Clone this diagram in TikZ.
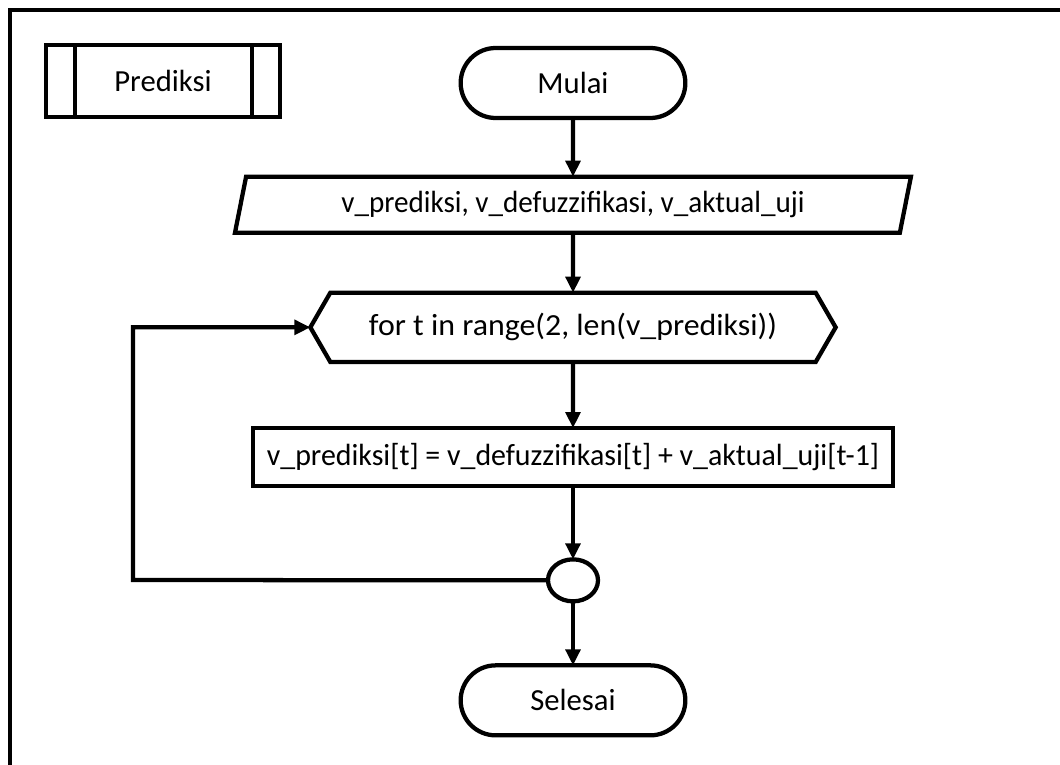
\documentclass[tikz,border=0pt]{standalone}
\usepackage{fontspec}
\setmainfont{Carlito}
\usetikzlibrary{positioning,shapes.geometric,shapes.misc,shapes.symbols,arrows.meta}

\tikzset{
  base/.style={draw, line width=3.2pt, inner sep=2pt, outer sep=0pt, font=\fontsize{23}{27}\selectfont},
  terminal/.style={base, rounded rectangle, minimum width=172.5pt, minimum height=52.5pt},
  io/.style={base, trapezium, trapezium left angle=76, trapezium right angle=104,
    trapezium stretches=true, minimum width=508pt, minimum height=42pt,
    font=\fontsize{23}{27}\selectfont\addfontfeature{FakeStretch=0.95}},
  loopbox/.style={base, signal, signal to=west and east, signal pointer angle=120,
    minimum width=394pt, minimum height=52pt,
    font=\fontsize{23}{27}\selectfont\addfontfeature{FakeStretch=1.04}},
  process/.style={base, rectangle, minimum width=480pt, minimum height=43.5pt,
    font=\fontsize{23}{27}\selectfont\addfontfeature{FakeStretch=0.975}},
  junction/.style={base, ellipse, minimum width=37.5pt, minimum height=31.5pt},
  subproc/.style={base, rectangle, minimum width=175.5pt, minimum height=54pt},
  flow/.style={line width=3.2pt, -{Triangle[length=12pt,width=11pt]}}
}

\begin{document}
\begin{tikzpicture}[x=0.75pt,y=-0.75pt]
            % Page and frame
            \useasboundingbox (0,0) rectangle (1060,764);
            \clip (0,0) rectangle (1060,764);
            \draw[line width=3.2pt] (10,10) rectangle (1090,800);

            % Define nodes
            \node[subproc]                      (P)  at (163,81) {Prediksi};
            \node[terminal]                     (M)  at (573,83) {Mulai};
            \node[io, below=44pt of M]          (IN) {v\_prediksi, v\_defuzzifikasi, v\_aktual\_uji};
            \node[loopbox, below=45pt of IN]    (F)  {for t in range(2, len(v\_prediksi))};
            \node[process, below=49.5pt of F]   (H)  {v\_prediksi[t] = v\_defuzzifikasi[t] + v\_aktual\_uji[t-1]};
            \node[junction, below=55pt of H]    (C)  {};
            \node[terminal, below=48pt of C]    (S)  {Selesai};
            \coordinate (back) at (133,580);

            % Bars of the sub-process box
            \draw[line width=3.2pt] ([xshift=21.75pt]P.north west) -- ([xshift=21.75pt]P.south west);
            \draw[line width=3.2pt] ([xshift=-21pt]P.north east) -- ([xshift=-21pt]P.south east);

            % Connect the nodes
            \draw[flow] (M) -- (IN);
            \draw[flow] (IN) -- (F);
            \draw[flow] (F) -- (H);
            \draw[flow] (H) -- (C);
            \draw[flow] (C) -- (S);
            \draw[flow] (C.west) -- (back) |- (F.west);
          \end{tikzpicture}
\end{document}
